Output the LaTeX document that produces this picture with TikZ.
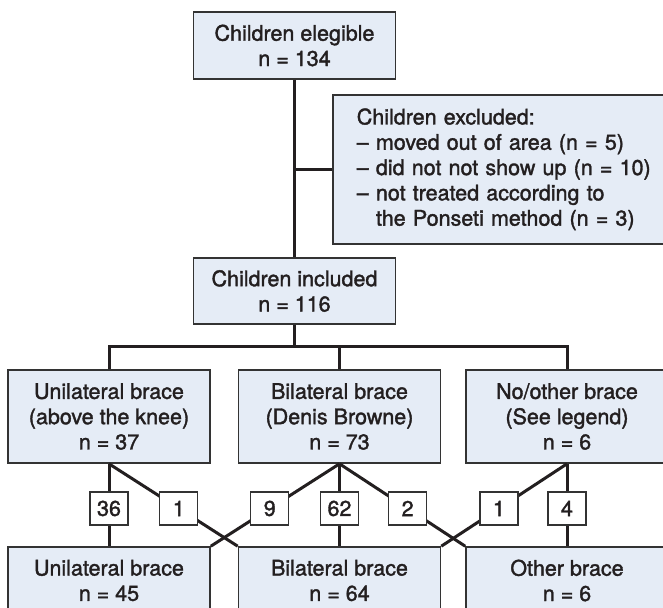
\documentclass[tikz,border=0pt]{standalone}
\usepackage{fontspec}
\setmainfont{TeX Gyre Heros}
\newfontfamily\medfont{TeX Gyre Heros}[FakeBold=1.6]
\definecolor{boxfill}{RGB}{229,236,246}
\definecolor{boxline}{RGB}{51,51,51}
\definecolor{ink}{RGB}{35,31,32}
\begin{document}
\begin{tikzpicture}[x=1pt,y=-1pt,
  txt/.style={font=\medfont\fontsize{21.5}{25.3}\selectfont, text=ink},
  flowbox/.style={txt, draw=boxline, line width=1.6pt, fill=boxfill, align=center, minimum width=202pt, inner sep=0pt},
  numbox/.style={txt, draw=boxline, line width=1.4pt, fill=white, minimum width=38pt, minimum height=33pt, inner sep=0pt},
  link/.style={draw=ink, line width=3pt}]
\useasboundingbox (0,0) rectangle (663,607);

\node[flowbox, minimum height=67pt] (top) at (294.5,45.5) {Children elegible\\n = 134};
\node[flowbox, anchor=north west, align=left, text width=310pt, inner xsep=24pt, minimum height=149pt] (excl) at (332,94)
  {Children excluded:\\– moved out of area (n = 5)\\– did not not show up (n = 10)\\– not treated according to\\\phantom{– }the Ponseti method (n = 3)};
\node[flowbox, minimum height=66pt] (incl) at (294.5,291) {Children included\\n = 116};

\node[flowbox, minimum height=93pt] (uni) at (109,416.5) {Unilateral brace\\(above the knee)\\n = 37};
\node[flowbox, minimum height=93pt] (bil) at (339.5,416.5) {Bilateral brace\\(Denis Browne)\\n = 73};
\node[flowbox, minimum height=93pt] (noo) at (567,416.5) {No/other brace\\(See legend)\\n = 6};

\node[flowbox, minimum height=67pt] (buni) at (109,580.5) {Unilateral brace\\n = 45};
\node[flowbox, minimum height=67pt] (bbil) at (339.5,580.5) {Bilateral brace\\n = 64};
\node[flowbox, minimum height=67pt] (both) at (567,580.5) {Other brace\\n = 6};

\coordinate (bar) at (0,346);

\draw[link] (top.south) -- (incl.north);
\draw[link] (top.south |- excl.west) -- (excl.west);
\draw[link] (incl.south) -- (incl.south |- bar);
\draw[link] (uni.north) -- (uni.north |- bar) -- (noo.north |- bar) -- (noo.north);
\draw[link] (bil.north) -- (bil.north |- bar);

\path[link] (uni.south) -- node[numbox, pos=0.542] (n36) {36} (buni.north);
\path[link] (uni.south) -- node[numbox, pos=0.542] (n1a) {1} (bbil.north west);
\path[link] (bil.south) -- node[numbox, pos=0.542] (n9) {9} (buni.north east);
\path[link] (bil.south) -- node[numbox, pos=0.542] (n62) {62} (bbil.north);
\path[link] (bil.south) -- node[numbox, pos=0.542] (n2) {2} (both.north west);
\path[link] (noo.south) -- node[numbox, pos=0.542] (n1b) {1} (bbil.north east);
\path[link] (noo.south) -- node[numbox, pos=0.542] (n4) {4} (both.north);
\end{tikzpicture}
\end{document}
